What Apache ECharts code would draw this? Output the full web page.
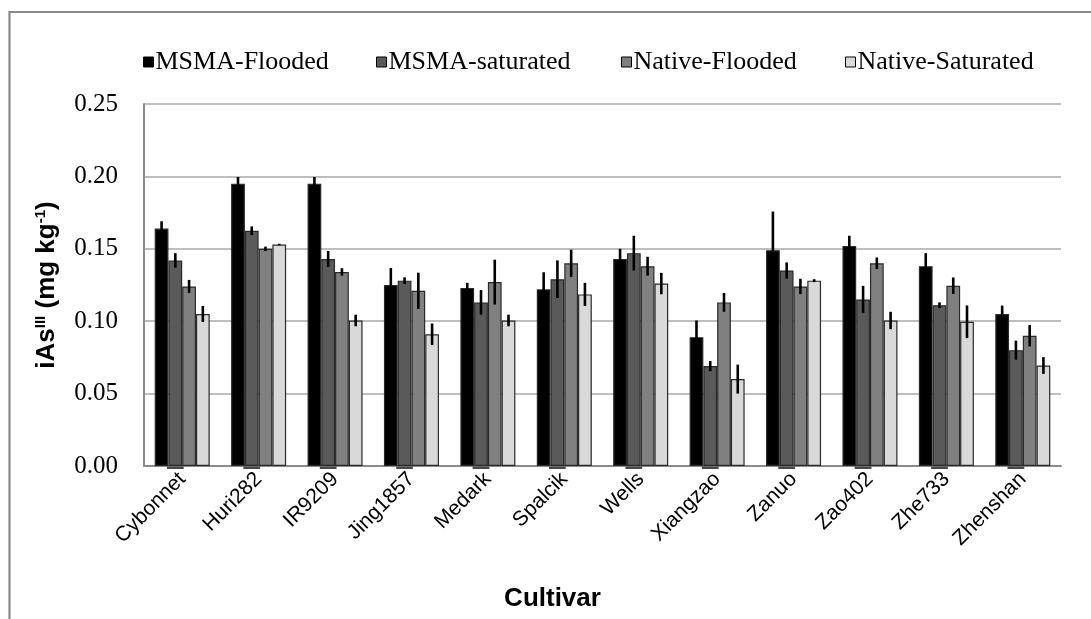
<!DOCTYPE html>
<html>
<head>
<meta charset="utf-8">
<script src="https://cdn.jsdelivr.net/npm/echarts@6/dist/echarts.min.js"></script>
<style>
  html, body { margin: 0; padding: 0; background: #fff; }
  #chart { width: 1091px; height: 619px; }
</style>
</head>
<body>
<div id="chart"></div>
<script>
// Inorganic arsenite (iAs III) in grain by cultivar and treatment, mean ± error
const categories = ['Cybonnet', 'Huri282', 'IR9209', 'Jing1857', 'Medark', 'Spalcik',
  'Wells', 'Xiangzao', 'Zanuo', 'Zao402', 'Zhe733', 'Zhenshan'];

const seriesNames = ['MSMA-Flooded', 'MSMA-saturated', 'Native-Flooded', 'Native-Saturated'];

const msmaFlooded      = [0.164, 0.195, 0.195, 0.125, 0.123, 0.122, 0.143, 0.089, 0.149, 0.152, 0.138, 0.105];
const msmaFloodedErr   = [0.005, 0.0046, 0.0046, 0.0117, 0.0035, 0.0118, 0.007, 0.0115, 0.0267, 0.007, 0.009, 0.0058];
const msmaSaturated    = [0.142, 0.1625, 0.143, 0.128, 0.113, 0.129, 0.147, 0.069, 0.135, 0.115, 0.111, 0.080];
const msmaSaturatedErr = [0.005, 0.003, 0.0055, 0.0023, 0.0085, 0.013, 0.012, 0.0035, 0.0056, 0.0094, 0.002, 0.0066];
const nativeFlooded    = [0.124, 0.150, 0.134, 0.121, 0.127, 0.140, 0.138, 0.113, 0.124, 0.140, 0.1245, 0.090];
const nativeFloodedErr = [0.0045, 0.0015, 0.0026, 0.0125, 0.0155, 0.0094, 0.0065, 0.0065, 0.0053, 0.004, 0.0057, 0.0074];
const nativeSaturated    = [0.105, 0.153, 0.1005, 0.091, 0.1005, 0.1185, 0.126, 0.060, 0.128, 0.1005, 0.0996, 0.0694];
const nativeSaturatedErr = [0.0055, 0.0005, 0.004, 0.0074, 0.004, 0.008, 0.0074, 0.01, 0.001, 0.006, 0.0113, 0.0058];

const yTicks = [0, 0.05, 0.10, 0.15, 0.20, 0.25];

const means = [msmaFlooded, msmaSaturated, nativeFlooded, nativeSaturated];
const errors = [msmaFloodedErr, msmaSaturatedErr, nativeFloodedErr, nativeSaturatedErr];
const fills = ['#000000', '#5a5a5a', '#808080', '#d9d9d9'];

const CATEGORY_GAP = 0.28;   // fraction of band left empty
const N = seriesNames.length;

const chart = echarts.init(document.getElementById('chart'), null, { renderer: 'canvas' });

// Error whiskers, placed over the k-th bar of each category group
function whiskerRenderer(k) {
  return function (params, api) {
    const idx = api.value(0);
    const v = api.value(1);
    const e = api.value(2);
    const band = api.size([1, 0])[0];
    const bw = band * (1 - CATEGORY_GAP) / N;
    const center = api.coord([idx, v]);
    const x = center[0] + (k - (N - 1) / 2) * bw;
    const top = api.coord([idx, v + e])[1];
    const bot = api.coord([idx, v - e])[1];
    const children = [{
      type: 'line',
      shape: { x1: x, y1: top, x2: x, y2: bot },
      style: { stroke: '#000', lineWidth: 2.6 }
    }];
    if (k === 1) {
      // short dark foot below the baseline under the second bar
      const y0 = api.coord([idx, 0])[1];
      children.push({
        type: 'rect',
        shape: { x: x - bw / 2 - 1.5, y: y0 + 0.5, width: bw + 3, height: 2.5 },
        style: { fill: '#4a4a4a' }
      });
    }
    return { type: 'group', children: children };
  };
}

const barSeries = seriesNames.map((name, k) => ({
  name: name,
  type: 'bar',
  data: means[k],
  barGap: '0%',
  barCategoryGap: (CATEGORY_GAP * 100) + '%',
  itemStyle: { color: fills[k], borderColor: '#2a2a2a', borderWidth: 1.2 },
  emphasis: { disabled: true },
  z: 2
}));

const errSeries = seriesNames.map((name, k) => ({
  name: name + ' error',
  type: 'custom',
  renderItem: whiskerRenderer(k),
  data: means[k].map((v, i) => [i, v, errors[k][i]]),
  encode: { x: 0, y: 1 },
  z: 5,
  silent: true
}));

const legendLefts = [143, 376, 621, 845];
const legends = seriesNames.map((name, k) => ({
  data: [name],
  left: legendLefts[k],
  top: 49,
  icon: 'rect',
  itemWidth: 10,
  itemHeight: 10,
  itemGap: 0,
  padding: 0,
  textStyle: { fontFamily: 'Liberation Serif', fontSize: 26, color: '#000', padding: [0, 0, 0, -3] },
  itemStyle: { borderColor: '#000', borderWidth: 1 },
  selectedMode: false
}));

const option = {
  backgroundColor: '#fff',
  animation: false,
  legend: legends,
  graphic: [{
    type: 'polyline',
    shape: { points: [[9.5, 700], [9.5, 12], [1100, 12]] },
    style: { stroke: '#8a8a8a', lineWidth: 2.2, fill: null },
    silent: true
  }],
  grid: { left: 144, right: 30, top: 104, bottom: 153, containLabel: false },
  xAxis: {
    type: 'category',
    data: categories,
    name: 'Cultivar',
    nameLocation: 'middle',
    nameGap: 120,
    nameTextStyle: {
      fontFamily: 'Liberation Sans', fontWeight: 'bold', fontSize: 26, color: '#000',
      padding: [0, 100, 0, 0]
    },
    axisLine: { show: true, lineStyle: { color: '#8a8a8a', width: 2 } },
    axisTick: { show: false },
    axisLabel: {
      rotate: 45,
      interval: 0,
      margin: 10,
      fontFamily: 'Liberation Sans',
      fontSize: 21,
      color: '#000'
    }
  },
  yAxis: {
    type: 'value',
    min: 0,
    max: 0.25,
    interval: 0.05,
    name: '{b|iAs}{sup|III}{b| (mg kg}{sup|-1}{b|)}',
    nameLocation: 'middle',
    nameGap: 84,
    nameRotate: 90,
    nameTextStyle: {
      rich: {
        b: { fontFamily: 'Liberation Sans', fontWeight: 'bold', fontSize: 26, color: '#000' },
        sup: { fontFamily: 'Liberation Sans', fontWeight: 'bold', fontSize: 15, color: '#000', verticalAlign: 'top', padding: [0, 0, 12, 0] }
      }
    },
    axisLine: { show: true, lineStyle: { color: '#8a8a8a', width: 2 } },
    axisTick: { show: false },
    splitLine: { show: true, lineStyle: { color: '#a8a8a8', width: 1.6 } },
    axisLabel: {
      margin: 26,
      fontFamily: 'Liberation Serif',
      fontSize: 25,
      color: '#000',
      formatter: function (v) {
        const t = yTicks.find(y => Math.abs(y - v) < 1e-9);
        return (t === undefined ? v : t).toFixed(2);
      }
    }
  },
  series: barSeries.concat(errSeries)
};

chart.setOption(option);
</script>
</body>
</html>
